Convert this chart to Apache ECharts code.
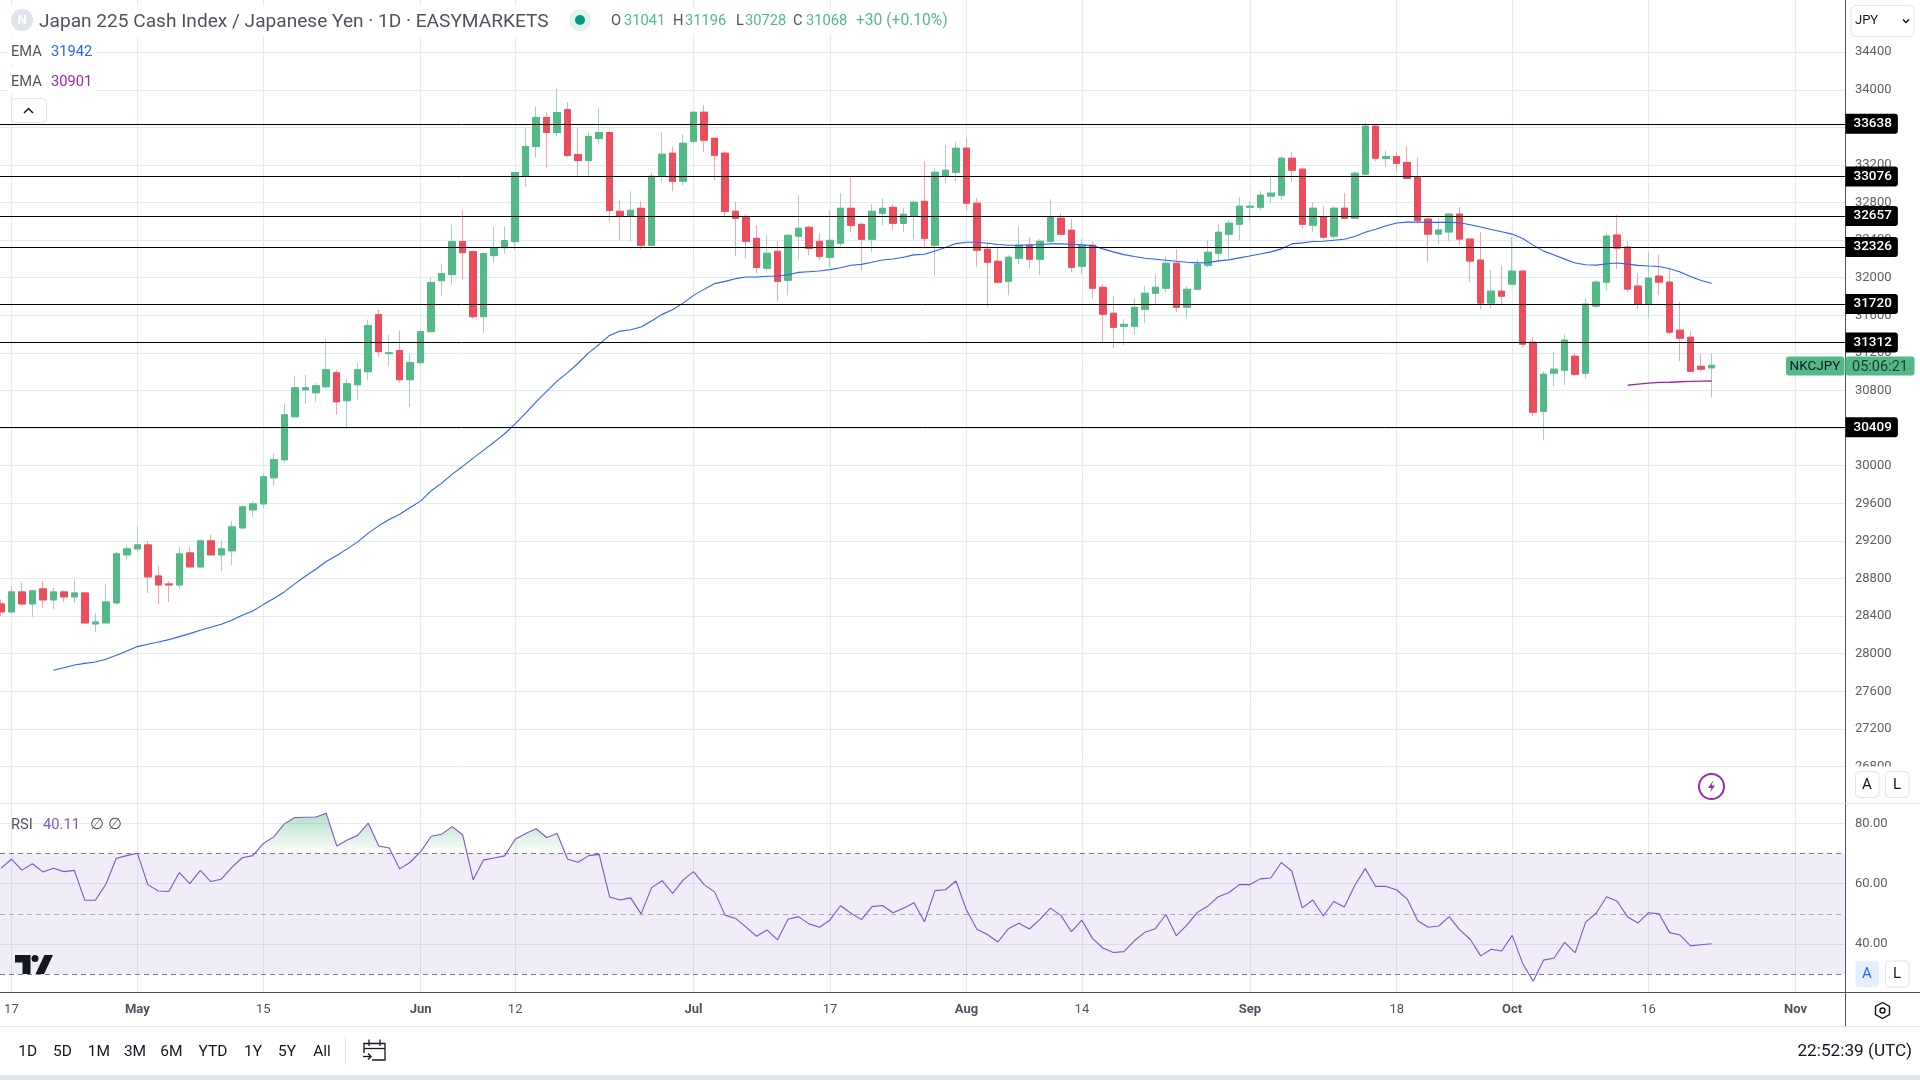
<!DOCTYPE html>
<html><head><meta charset="utf-8"><title>NKCJPY</title>
<style>html,body{margin:0;padding:0;background:#fff}#c{width:1920px;height:1080px}</style>
<script src="https://cdn.jsdelivr.net/npm/echarts@6/dist/echarts.min.js"></script>
</head><body><div id="c"></div>
<script>
// bars run from the Sunday before 17 Apr (first, cut off at the edge) to 23 Oct 2023; 6 bars per week
const opens = [28529,28444,28657,28529,28689,28572,28657,28604,28646,28316,28327,
28540,29051,29115,29157,28827,28742,28731,29072,28923,29200,
29051,29094,29338,29530,29594,29871,30063,30521,30808,30776,
30840,30989,30691,30861,31000,31607,31192,31224,30915,31096,
31426,31969,32033,32384,32278,31586,32235,32320,32384,33087,
33396,33705,33545,33790,33311,33247,33481,33545,32707,32654,
32739,32345,33090,33325,33026,33452,33761,33484,33325,32707,
32643,32419,32100,32281,31972,32441,32536,32387,32217,32366,
32739,32568,32409,32686,32749,32579,32654,32813,32345,33080,
33122,33379,32793,32303,32175,31962,32207,32346,32197,32388,
32633,32505,32122,32346,31898,31622,31483,31483,31664,31835,
31888,32154,31685,31877,32133,32261,32463,32569,32750,32750,
32868,32878,33272,33155,32559,32644,32442,32740,32633,33102,
33613,33269,33290,33226,33066,32624,32464,32486,32677,32411,
32188,31730,31857,31932,32070,31314,30579,30984,31016,31165,
30984,31698,31953,32454,32326,31911,31719,32017,31953,31442,
31367,31058,31041];
const closes = [28444,28657,28529,28668,28572,28657,28604,28646,28327,28337,28550,
29062,29115,29157,28817,28731,28731,29062,28923,29200,29051,
29115,29349,29562,29594,29882,30063,30542,30829,30829,30851,
31021,30680,30872,31021,31490,31213,31202,30915,31096,31426,
31948,32044,32384,32267,31586,32257,32320,32395,33119,33396,
33705,33545,33758,33300,33247,33503,33545,32715,32654,32717,
32345,33080,33314,33026,33431,33761,33463,33303,32707,32632,
32387,32110,32260,31961,32451,32526,32313,32228,32398,32739,
32558,32409,32707,32739,32579,32675,32803,32419,33122,33144,
33378,32793,32292,32165,31952,32218,32346,32197,32388,32644,
32463,32111,32346,31888,31611,31472,31504,31685,31835,31898,
32154,31685,31877,32143,32271,32484,32580,32761,32761,32878,
32900,33272,33144,32569,32740,32431,32740,32633,33112,33613,
33272,33290,33216,33056,32608,32464,32507,32677,32411,32177,
31730,31857,31804,32070,31293,30569,30973,31027,31336,30973,
31719,31953,32443,32315,31879,31719,31996,31953,31421,31357,
31005,31027,31068];
const highs = [28579,28714,28753,28678,28774,28699,28671,28795,28657,28433,28742,
29083,29147,29349,29200,28934,28774,29136,29136,29200,29264,
29211,29413,29573,29626,29913,30127,30659,30957,30968,30883,
31351,31021,30925,31096,31554,31660,31394,31437,31192,31447,
32001,32150,32565,32715,32289,32267,32544,32544,33119,33598,
33822,33758,34014,33865,33598,33545,33801,33566,32824,32920,
32813,33122,33548,33399,33527,33761,33836,33484,33346,32803,
32675,32558,32462,32387,32462,32877,32558,32472,32717,32899,
33069,32590,32781,32845,32781,32739,32824,33239,33165,33410,
33442,33485,32846,32378,32314,32239,32548,32431,32410,32836,
32687,32623,32410,32388,31930,31803,31558,31781,31909,32037,
32229,32303,31909,32197,32399,32569,32612,32857,32814,32921,
33091,33294,33336,33176,32804,32761,32761,32900,33123,33656,
33634,33354,33343,33397,33279,32656,32635,32688,32752,32422,
32486,32081,32134,32432,32081,31367,31005,31208,31399,31197,
31783,31974,32475,32667,32390,32049,32273,32241,32102,31740,
31431,31186,31196];
const lows = [28401,28426,28518,28391,28486,28476,28550,28540,28327,28231,28327,
28518,28998,29083,28646,28529,28550,28689,28923,28923,29051,
28880,28944,29328,29456,29551,29786,30031,30510,30659,30680,
30819,30542,30393,30702,30915,31160,31053,30883,30627,31064,
31426,31809,31926,31980,31564,31415,32161,32257,32299,32970,
33279,33162,33503,33279,33087,33077,33417,32597,32398,32387,
32302,32345,33026,32920,32984,33431,33335,33037,32654,32228,
32206,32047,32068,31748,31812,32196,32238,32185,32110,32334,
32483,32078,32270,32558,32504,32483,32409,32313,32015,33005,
33026,32719,32111,31685,31952,31813,32143,32101,32026,32367,
32452,32058,32037,31771,31313,31249,31281,31398,31515,31717,
31845,31632,31568,31877,32111,32165,32197,32399,32612,32719,
32793,32825,33017,32527,32484,32410,32410,32623,32633,33102,
33240,33184,33130,33056,32577,32166,32358,32390,32347,31953,
31666,31676,31719,31932,31261,30526,30270,30846,30856,30952,
30931,31676,31868,32092,31847,31666,31570,31815,31399,31112,
31005,31005,30728];
const emaBlue = [null,null,null,null,null,27823,27851,27879,27897,27911,27940,
27982,28028,28075,28100,28124,28149,28181,28213,28249,28281,
28312,28355,28408,28454,28522,28586,28657,28742,28824,28898,
28980,29044,29115,29189,29282,29360,29427,29484,29555,29626,
29733,29814,29910,29992,30080,30165,30250,30340,30445,30560,
30680,30790,30900,30990,31090,31200,31290,31386,31432,31447,
31475,31539,31610,31660,31730,31812,31876,31937,31961,31990,
32007,32007,32015,32018,32032,32057,32064,32071,32086,32107,
32132,32142,32164,32189,32199,32217,32243,32250,32285,32321,
32363,32378,32378,32367,32353,32346,32346,32349,32353,32360,
32360,32356,32349,32342,32307,32275,32246,32225,32207,32197,
32186,32175,32165,32158,32161,32179,32190,32211,32232,32253,
32275,32307,32360,32371,32385,32388,32399,32410,32438,32484,
32516,32553,32582,32592,32592,32589,32589,32589,32585,32564,
32539,32514,32489,32464,32418,32347,32283,32241,32198,32156,
32138,32134,32148,32156,32145,32131,32124,32120,32095,32060,
32014,31971,31942];
const emaPurpleStart = 154;
const emaPurple = [30856,30867,30878,30886,30888,30893,30897,30900,30901];
const rsiValues = [65.1,68.1,64.5,66.6,63.9,65.1,64.0,64.4,54.5,54.5,59.8,
68.4,69.3,70.1,59.7,57.6,57.4,63.7,60.0,64.4,60.7,
61.5,65.4,68.6,69.3,73.3,75.5,79.8,81.9,82.0,82.1,
83.3,72.5,74.5,76.0,80.1,72.5,71.8,64.9,67.1,70.6,
75.7,76.4,78.9,76.2,61.3,67.9,68.5,69.2,74.7,76.6,
78.2,75.3,76.6,68.1,67.1,69.3,69.7,55.6,54.6,55.3,
50.0,58.7,61.0,56.8,61.2,64.0,59.7,57.3,49.6,48.5,
45.6,42.6,44.7,41.4,48.2,49.1,46.7,45.6,48.0,52.7,
50.2,48.1,52.4,52.8,50.4,51.9,53.7,47.4,57.7,58.0,
60.9,51.3,44.9,43.2,40.7,45.1,46.9,45.0,48.2,51.9,
49.5,44.1,47.9,41.9,38.7,37.2,37.5,41.1,43.9,45.1,
49.8,42.8,46.3,50.5,52.6,55.7,57.0,59.7,59.7,61.6,
61.9,67.0,64.2,52.0,54.6,49.3,54.1,52.3,59.4,65.0,
59.1,59.1,57.9,54.9,47.7,45.6,46.0,49.1,44.7,41.6,
36.1,38.3,37.7,42.9,33.6,27.7,34.7,35.4,40.6,37.1,
47.3,50.2,55.7,54.2,49.0,47.0,50.4,50.0,43.8,43.0,
39.4,39.8,40.11];
const levels = [33638,33076,32657,32326,31720,31312,30409];
const priceTicks = [26800,27200,27600,28000,28400,28800,29200,29600,30000,30400,30800,31200,31600,32000,32400,32800,33200,33600,34000,34400];
const rsiTicks = [40,60,80];
const rsiGuides = [70,50,30];
const tickBars = [0,12,24,39,48,65,78,91,102,118,132,143,156,170];
const tickLabels = ['17','May','15','Jun','12','Jul','17','Aug','14','Sep','18','Oct','16','Nov'];
const monthLabels = ['May','Jun','Jul','Aug','Sep','Oct','Nov'];

const FONT = 'Roboto, sans-serif';
const UP='#53b987', DOWN='#eb4d5c', UPW='#a5cfc9', DOWNW='#f7a4af', GRID='#e1ecf2', AXIS='#50535e', TXT='#50535e';
const firstBar = -1;
const bars = opens.map((_, k) => k + firstBar);
const wickData = bars.map((b, k) => ({value:[b, opens[k], closes[k], lows[k], highs[k]]}));
const bodyData = bars.map((b, k) => [b, opens[k], closes[k], Math.min(opens[k], closes[k]), Math.max(opens[k], closes[k])]);
const labelAt = v => tickLabels[tickBars.indexOf(v)] || '';

const chart = echarts.init(document.getElementById('c'), null, {renderer:'canvas', width:1920, height:1080});

function t(x,y,s,o){ o=o||{}; return {type:'text',x,y,z:o.z||200,silent:true,style:{text:s,fill:o.c||'#131722',font:(o.w?o.w+' ':'')+(o.s||14)+'px '+(o.f||FONT),textVerticalAlign:'middle',textAlign:o.a||'left',textBaseline:'middle'}}; }
function r(x,y,w,h,fill,o){ o=o||{}; return {type:'rect',z:o.z||190,silent:true,shape:{x,y,width:w,height:h,r:o.r||0},style:{fill,stroke:o.stroke||null,lineWidth:o.lw||1}}; }
function ln(x1,y1,x2,y2,c,w){ return {type:'line',z:180,silent:true,shape:{x1,y1,x2,y2},style:{stroke:c,lineWidth:w||1}}; }
function pl(points,o){ o=o||{}; return {type:'polyline',z:o.z||200,silent:true,shape:{points},style:{fill:null,stroke:o.stroke||'#131722',lineWidth:o.lw||1.5}}; }
function pg(points,o){ o=o||{}; return {type:'polygon',z:o.z||200,silent:true,shape:{points},style:{fill:o.fill||'none',stroke:o.stroke||null,lineWidth:o.lw||1.5}}; }

const graphics = [
  r(8,6,552,30,'#fff'), r(8,38,88,26,'#fff'), r(8,68,88,26,'#fff'),
  {type:'circle',z:195,silent:true,shape:{cx:22,cy:20,r:11},style:{fill:'#e0e3eb'}},
  t(22,21,'N',{a:'center',c:'#fff',s:13,w:'bold'}),
  t(39,22,'Japan 225 Cash Index / Japanese Yen · 1D · EASYMARKETS',{s:19.1,c:'#50535e'}),
  {type:'circle',z:195,silent:true,shape:{cx:580,cy:20,r:11},style:{fill:'#dff3ef'}},
  {type:'circle',z:196,silent:true,shape:{cx:580,cy:20,r:5},style:{fill:'#089981'}},
  r(606,8,346,26,'#fff'),
  t(611,21,'O',{c:'#50535e',s:14.7}), t(624,21,'31041',{c:'#53b987',s:14.7}),
  t(673,21,'H',{c:'#50535e',s:14.7}), t(685,21,'31196',{c:'#53b987',s:14.7}),
  t(736,21,'L',{c:'#50535e',s:14.7}), t(745,21,'30728',{c:'#53b987',s:14.7}),
  t(793,21,'C',{c:'#50535e',s:14.7}), t(806,21,'31068',{c:'#53b987',s:14.7}),
  t(856,21,'+30 (+0.10%)',{c:'#53b987',s:15.6}),
  t(11,52,'EMA',{c:'#50535e',s:14.7}), t(51,52,'31942',{c:'#2962ff',s:14.7}),
  t(11,82,'EMA',{c:'#50535e',s:14.7}), t(51,82,'30901',{c:'#9c27b0',s:14.7}),
  r(11.5,98.5,35,24,'#fff',{stroke:'#e0e3eb',r:4}),
  pl([[24,113],[28.5,108.5],[33,113]],{lw:1.5}),
  // right axis chrome
  r(1846,0,74,46,'#fff',{z:150}),
  r(1851,5.5,63,31,'#fff',{stroke:'#e0e3eb',r:5,z:195}),
  t(1855,21,'JPY',{s:13,c:'#131722'}),
  pl([[1903,19.5],[1906,22.5],[1909,19.5]],{lw:1.5}),
  // live price tag
  r(1786,356.5,58.5,19,UP,{r:3}), r(1845.5,356.5,69,19,UP,{r:3}),
  t(1815,367,'NKCJPY',{a:'center',s:13.5,c:'#131722'}), t(1880,367,'05:06:21',{a:'center',s:14.5,c:'#1f3a2c'}),
  // autoscale buttons
  r(1846,766.5,74,36.5,'#fff',{z:150}),
  ln(1846,803.5,1920,803.5,'#e0e3eb'),
  r(1855.5,771.5,23.5,26,'#fff',{stroke:'#e0e3eb',r:4}), t(1867,785,'A',{a:'center',s:15}),
  r(1885.5,771.5,23.5,26,'#fff',{stroke:'#e0e3eb',r:4}), t(1897,785,'L',{a:'center',s:15}),
  r(1855.5,961,23.5,26,'#e3effd',{r:4}), t(1867,974,'A',{a:'center',s:15,c:'#2962ff'}),
  r(1885.5,961,23.5,26,'#fff',{stroke:'#e0e3eb',r:4}), t(1897,974,'L',{a:'center',s:15}),
  // lightning badge
  {type:'circle',z:195,silent:true,shape:{cx:1711.5,cy:786.5,r:12.5},style:{fill:'#fff',stroke:'#9c27b0',lineWidth:2}},
  pg([[1713.5,780],[1708,788],[1711.5,788],[1709.5,793],[1715,785.5],[1711.5,785.5]],{fill:'#9c27b0'}),
  // pane frames
  ln(0,992.5,1920,992.5,AXIS), ln(1845.5,992,1845.5,1026,AXIS), ln(0,1026.5,1920,1026.5,'#e0e3eb'),
  r(0,1075,1920,5,'#dfe3ec'),
  pg([[1882.5,1002.5],[1889.5,1006.5],[1889.5,1014.5],[1882.5,1018.5],[1875.5,1014.5],[1875.5,1006.5]],{stroke:'#131722',lw:1.4}),
  {type:'circle',z:200,silent:true,shape:{cx:1882.5,cy:1010.5,r:2.5},style:{fill:'none',stroke:'#131722',lineWidth:1.4}},
  // RSI legend
  t(11,825,'RSI',{c:'#50535e',s:14.7}), t(43,825,'40.11',{c:'#7e57c2',s:14.7}),
  t(90,825,'∅',{c:'#50535e',s:16,f:'"DejaVu Sans"'}), t(108,825,'∅',{c:'#50535e',s:16,f:'"DejaVu Sans"'}),
  // TV logo
  pg([[15,955],[30.5,955],[30.5,974],[22.5,974],[22.5,962.5],[15,962.5]],{fill:'#131722'}),
  {type:'circle',z:200,silent:true,shape:{cx:35,cy:958.5,r:3.5},style:{fill:'#131722'}},
  pg([[44.5,955],[53,955],[44,974],[35.5,974]],{fill:'#131722'}),
  // bottom toolbar
  t(27.8,1052,'1D',{a:'center',s:15.5}), t(62.4,1052,'5D',{a:'center',s:15.5}), t(98.8,1052,'1M',{a:'center',s:15.5}),
  t(135,1052,'3M',{a:'center',s:15.5}), t(171.4,1052,'6M',{a:'center',s:15.5}), t(213,1052,'YTD',{a:'center',s:15.5}),
  t(253,1052,'1Y',{a:'center',s:15.5}), t(287,1052,'5Y',{a:'center',s:15.5}), t(322,1052,'All',{a:'center',s:15.5}),
  ln(345.5,1037,345.5,1065,'#e0e3eb'),
  pl([[372,1060],[385,1060],[385,1043.5],[364,1043.5],[364,1053]],{lw:1.3}),
  pl([[364,1048.5],[385,1048.5]],{lw:1.3}), pl([[369,1039.5],[369,1046]],{lw:1.3}), pl([[380,1039.5],[380,1046]],{lw:1.3}),
  pl([[363,1056.5],[371,1056.5]],{lw:1.3}), pl([[368,1053.5],[371,1056.5],[368,1059.5]],{lw:1.3}),
  t(1912,1052,'22:52:39 (UTC)',{a:'right',s:17.2})
];

const option = {
  animation:false, backgroundColor:'#fff',
  grid:[{left:0,top:0,width:1845.5,height:803,containLabel:false},{left:0,top:803,width:1845.5,height:189,containLabel:false}],
  xAxis:[
    {type:'value',gridIndex:0,min:-1.0862,max:174.76,axisLabel:{show:false,customValues:tickBars},axisTick:{show:false,customValues:tickBars},
     axisLine:{show:true,onZero:false,lineStyle:{color:'#e0e3eb'}},splitLine:{show:true,lineStyle:{color:GRID,width:1}}},
    {type:'value',gridIndex:1,min:-1.0862,max:174.76,
     axisLabel:{show:true,customValues:tickBars,margin:11,showMinLabel:true,showMaxLabel:true,color:TXT,fontFamily:FONT,fontSize:13,
       formatter:v=>{const s=labelAt(v);return monthLabels.includes(s)?'{m|'+s+'}':s;},
       rich:{m:{fontFamily:FONT,fontSize:13,fontWeight:'bold',color:TXT}}},
     axisTick:{show:false,customValues:tickBars},axisLine:{show:false,onZero:false},splitLine:{show:true,lineStyle:{color:GRID,width:1}}}
  ],
  yAxis:[
    {type:'value',gridIndex:0,position:'right',min:26411,max:34955,
     axisLabel:{show:true,customValues:priceTicks,margin:9.5,padding:[2,0,0,0],color:'#5d606b',fontFamily:FONT,fontSize:13,formatter:v=>String(v)},
     axisTick:{show:false,customValues:priceTicks},axisLine:{show:true,onZero:false,lineStyle:{color:AXIS}},splitLine:{show:true,lineStyle:{color:GRID,width:1}}},
    {type:'value',gridIndex:1,position:'right',min:24.14,max:86.72,
     axisLabel:{show:true,customValues:rsiTicks,margin:9.5,padding:[2,0,0,0],color:'#5d606b',fontFamily:FONT,fontSize:13,formatter:v=>v.toFixed(2)},
     axisTick:{show:false,customValues:rsiTicks},axisLine:{show:true,onZero:false,lineStyle:{color:AXIS}},splitLine:{show:true,lineStyle:{color:GRID,width:1}}}
  ],
  graphic:{elements:graphics},
  series:[
    {name:'wicks',type:'candlestick',xAxisIndex:0,yAxisIndex:0,barWidth:7,data:wickData,z:3,silent:true,
     encode:{x:0,y:[1,2,3,4]},
     itemStyle:{color:UPW,color0:DOWNW,borderColor:UPW,borderColor0:DOWNW,borderWidth:1},
     markLine:{silent:true,symbol:'none',animation:false,precision:0,z:6,
       lineStyle:{color:'#000',type:'solid',width:1},
       label:{show:true,position:'end',distance:0,formatter:'{c}',color:'#fff',backgroundColor:'#000',fontFamily:FONT,fontSize:13.5,fontWeight:500,padding:[4,6,2,8],borderRadius:[0,3,3,0]},
       data:levels.map(v=>({yAxis:v}))}},
    {name:'bodies',type:'candlestick',xAxisIndex:0,yAxisIndex:0,barWidth:7,data:bodyData,z:4,silent:true,
     encode:{x:0,y:[1,2,3,4]},
     itemStyle:{color:UP,color0:DOWN,borderColor:UP,borderColor0:DOWN,borderWidth:1}},
    {name:'EMA',type:'line',xAxisIndex:0,yAxisIndex:0,z:5,showSymbol:false,silent:true,data:bars.map((b,k)=>[b,emaBlue[k]]),lineStyle:{color:'#2962ff',width:1.1}},
    {name:'EMA2',type:'line',xAxisIndex:0,yAxisIndex:0,z:5,showSymbol:false,silent:true,data:emaPurple.map((v,k)=>[emaPurpleStart+k,v]),lineStyle:{color:'#9c27b0',width:1.3}},
    {name:'RSI',type:'line',xAxisIndex:1,yAxisIndex:1,z:5,showSymbol:false,silent:true,data:bars.map((b,k)=>[b,rsiValues[k]]),
     lineStyle:{color:'#7e57c2',width:1.1},
     areaStyle:{origin:'start',opacity:1,color:new echarts.graphic.LinearGradient(0,808,0,853.3,[{offset:0,color:'rgba(83,185,135,0.50)'},{offset:0.98,color:'rgba(83,185,135,0.03)'},{offset:1,color:'rgba(83,185,135,0)'}],true)},
     markArea:{silent:true,itemStyle:{color:'rgba(126,87,194,0.115)'},data:[[{yAxis:rsiGuides[2]},{yAxis:rsiGuides[0]}]]},
     markLine:{silent:true,symbol:'none',animation:false,label:{show:false},
       data:[
        {yAxis:rsiGuides[0],lineStyle:{color:'#787b86',type:[5,4],width:1}},
        {yAxis:rsiGuides[1],lineStyle:{color:'rgba(120,123,134,0.55)',type:[5,4],width:1}},
        {yAxis:rsiGuides[2],lineStyle:{color:'#787b86',type:[5,4],width:1}}]}}
  ]
};
chart.setOption(option);
</script></body></html>
